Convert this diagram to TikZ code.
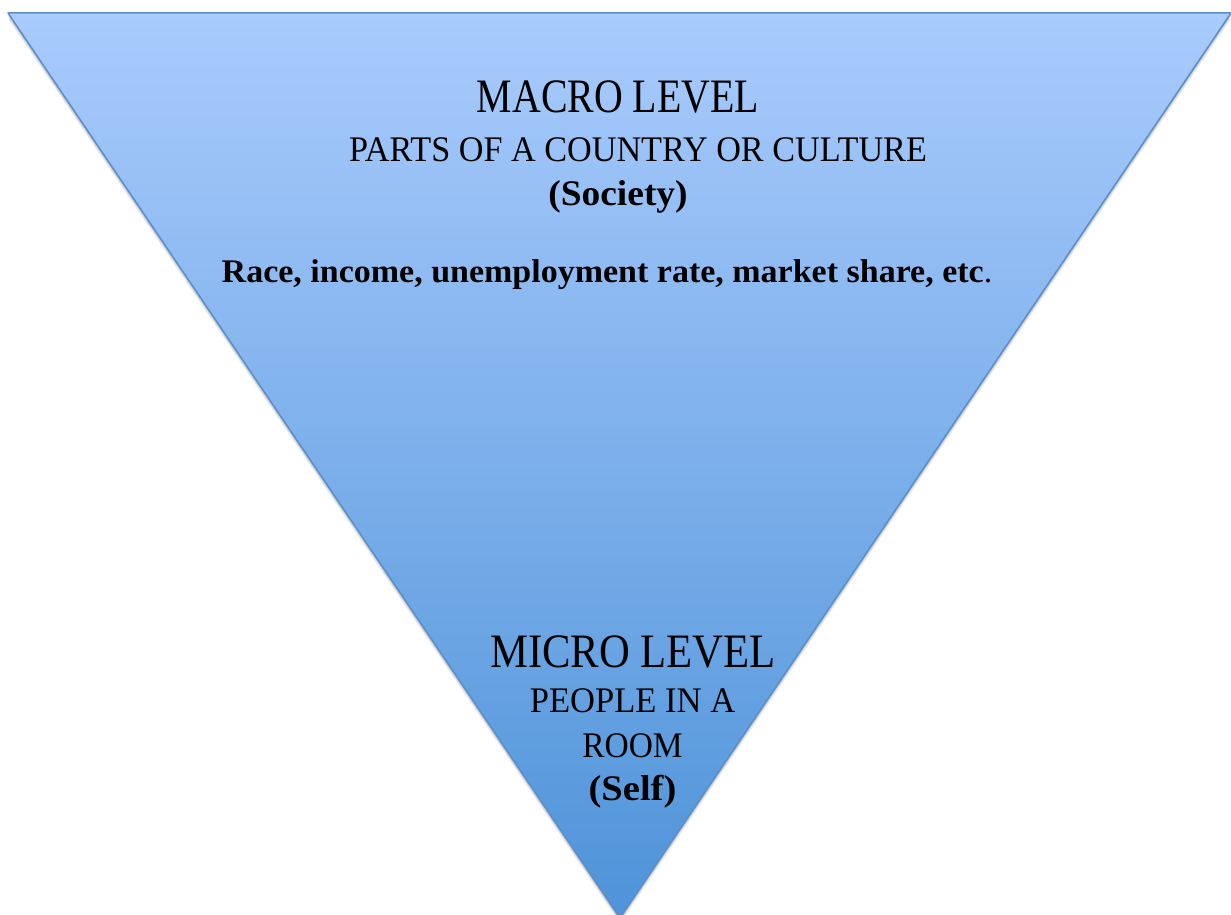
\documentclass[tikz,border=0pt]{standalone}
\usepackage{fontspec}
\setmainfont{Liberation Serif}
\usepackage{graphicx}
\definecolor{topblue}{HTML}{A9CBFD}
\definecolor{botblue}{HTML}{4E93D8}
\definecolor{edgeblue}{HTML}{5A8FC9}
\newcommand\hsq[2]{\scalebox{#1}[1]{#2}}
\tikzset{
  txt/.style={anchor=base, inner sep=0pt, text=black},
  big/.style={txt, font=\fontsize{48}{48}\selectfont},
  mid/.style={txt, font=\fontsize{36}{36}\selectfont},
  midb/.style={txt, font=\fontsize{36}{36}\selectfont\bfseries},
  small/.style={txt, font=\fontsize{33}{33}\selectfont\bfseries},
}
\begin{document}
\begin{tikzpicture}[x=1pt,y=-1pt]
\useasboundingbox (0,0) rectangle (1231,915);
\coordinate (tl) at (8,13);
\coordinate (tr) at (1231,13);
\coordinate (ap) at (620,918);
% shadow
\foreach \d/\o in {6/0.05,4.5/0.07,3/0.09,1.5/0.12}{
  \fill[black,opacity=\o] ([shift={(0,\d)}]tl) -- ([shift={(0,\d)}]tr) -- ([shift={(0,\d)}]ap) -- cycle;
}
\shade[top color=topblue, bottom color=botblue] (tl) -- (tr) -- (ap) -- cycle;
\draw[edgeblue, line width=1.5pt, line join=round] (tl) -- (tr) -- (ap) -- cycle;
\node[big]  (macro)   at (618,113) {\hsq{0.83}{MACRO LEVEL}};
\node[mid]  (parts)   at (638,161) {\hsq{0.95}{PARTS OF A COUNTRY OR CULTURE}};
\node[midb] (society) at (618,205) {\hsq{1.04}{(Society)}};
\node[small] (race)   at (607,282) {\hsq{1.03}{Race, income, unemployment rate, market share, etc\normalfont.}};
\node[big]  (micro)   at (633,667) {\hsq{0.89}{MICRO LEVEL}};
\node[mid]  (people)  at (632.5,712) {\hsq{0.96}{PEOPLE IN A}};
\node[mid]  (room)    at (632.5,757) {\hsq{0.93}{ROOM}};
\node[midb] (self)    at (632.5,800) {\hsq{1.07}{(Self)}};
\end{tikzpicture}
\end{document}
